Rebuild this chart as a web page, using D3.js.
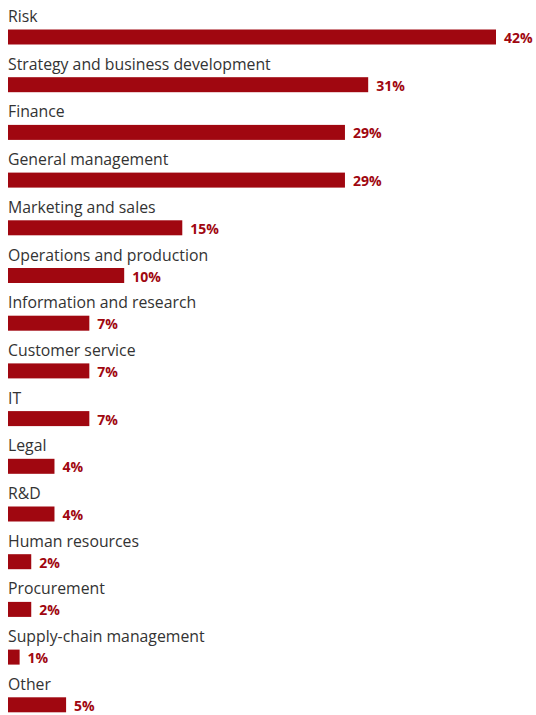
<!DOCTYPE html>
<html>
<head>
<meta charset="utf-8">
<script src="https://cdn.jsdelivr.net/npm/d3@7/dist/d3.min.js"></script>
<style>
  html, body { margin: 0; padding: 0; background: #fff; }
  svg { display: block; }
</style>
</head>
<body>
<div id="chart"></div>
<script>
// Functions named by respondents, share of respondents (%)
const categories = [
  "Risk",
  "Strategy and business development",
  "Finance",
  "General management",
  "Marketing and sales",
  "Operations and production",
  "Information and research",
  "Customer service",
  "IT",
  "Legal",
  "R&D",
  "Human resources",
  "Procurement",
  "Supply-chain management",
  "Other"
];
const values = [42, 31, 29, 29, 15, 10, 7, 7, 7, 4, 4, 2, 2, 1, 5];
const valueLabels = values.map(v => v + "%");

const width = 536, height = 715;
const barColor = "#a00710";

const svg = d3.select("#chart").append("svg")
  .attr("width", width)
  .attr("height", height);

const x = d3.scaleLinear().domain([0, 42]).range([8, 496]);
const y = d3.scaleBand()
  .domain(categories)
  .range([0, 47.7 * categories.length]);

const barH = 15;
const barOffset = 29.5; // bar top within each row

const rows = svg.selectAll("g.row")
  .data(categories.map((c, i) => ({ c, v: values[i], lab: valueLabels[i] })))
  .join("g")
  .attr("class", "row")
  .attr("transform", d => `translate(0,${y(d.c)})`);

rows.append("text")
  .attr("x", 8)
  .attr("y", 22)
  .attr("font-family", "'Open Sans', sans-serif")
  .attr("font-size", 15.8)
  .attr("fill", "#333")
  .text(d => d.c);

rows.append("rect")
  .attr("x", x(0))
  .attr("y", barOffset)
  .attr("width", d => x(d.v) - x(0))
  .attr("height", barH)
  .attr("fill", barColor);

rows.append("text")
  .attr("x", d => x(d.v) + 8)
  .attr("y", barOffset + 13.5)
  .attr("font-family", "'Open Sans', sans-serif")
  .attr("font-weight", "bold")
  .attr("font-size", 14)
  .attr("fill", barColor)
  .text(d => d.lab);
</script>
</body>
</html>
